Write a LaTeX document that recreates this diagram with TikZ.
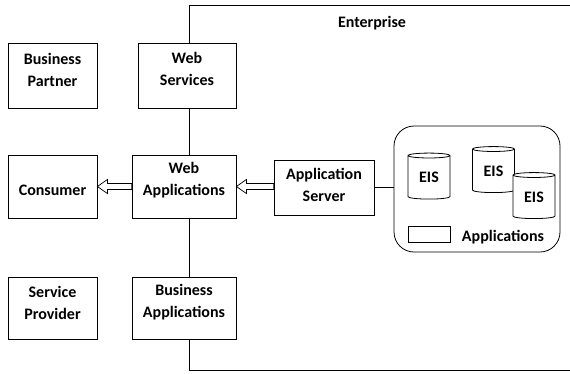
\documentclass[tikz,border=0pt]{standalone}
\usepackage{fontspec}
\setmainfont{Carlito}
\usetikzlibrary{calc,shapes.geometric}
\begin{document}
\begin{tikzpicture}[x=1pt,y=-1pt,
  line width=0.8pt,
  every node/.style={font=\bfseries\fontsize{16}{22}\selectfont, align=center, inner sep=0pt},
  box/.style={draw, rectangle},
  db/.style={draw, cylinder, shape border rotate=90, aspect=0.25,
             minimum width=42pt, minimum height=46pt, fill=white},
  hollow/.style={draw, fill=white, line width=0.7pt}
]
\useasboundingbox (0,0) rectangle (570,373);

% enterprise boundary
\coordinate (ent-top) at (189,5);
\coordinate (ent-topright) at (570,5);
\coordinate (ent-bot) at (189,370);
\coordinate (ent-botright) at (570,370);
\node (enterprise) at (372,23) {Enterprise};

% outside parties
\node[box, minimum width=89pt, minimum height=65pt] (bp) at (52.5,75.5) {};
\node (bp-t) at ($(bp)+(0,-6)$) {Business\\Partner};
\node[box, minimum width=89pt, minimum height=63pt] (con) at (52.5,186.5) {};
\node (con-t) at ($(con)+(0,4)$) {Consumer};
\node[box, minimum width=89pt, minimum height=62pt] (sp) at (52.5,308) {};
\node (sp-t) at ($(sp)+(0,-5)$) {Service\\Provider};

% enterprise systems
\node[box, minimum width=98pt, minimum height=65pt] (ws) at (187,75.5) {};
\node (ws-t) at ($(ws)+(0,-7)$) {Web\\Services};
\node[box, minimum width=104pt, minimum height=63pt] (wa) at (184,186.5) {};
\node (wa-t) at ($(wa)+(0,-6)$) {Web\\Applications};
\node[box, minimum width=104pt, minimum height=62pt] (ba) at (184,308) {};
\node (ba-t) at ($(ba)+(0,-5.5)$) {Business\\Applications};
\node[box, minimum width=100pt, minimum height=55pt] (as) at (324,187.5) {};
\node (as-t) at ($(as)+(0,-2.5)$) {Application\\Server};

% EIS group
\node[draw, rounded corners=20pt, minimum width=166pt, minimum height=126pt] (eisgroup) at (477,189) {};
\node[db] (eis1) at (429,177.5) {EIS};
\node[db] (eis2) at (493.5,171) {EIS};
\node[db] (eis3) at (534,197) {EIS};
\node[box, minimum width=42pt, minimum height=16pt] (appsym) at (429,234) {};
\node (applabel) at (503,237) {Applications};

% boundary lines and links
\draw (ent-topright) -- (ent-top) -- (ent-top |- ws.north);
\draw (ent-top |- ws.south) -- (ent-top |- wa.north);
\draw (ent-top |- wa.south) -- (ent-top |- ba.north);
\draw (ent-top |- ba.south) -- (ent-bot) -- (ent-botright);
\draw (as.east) -- (as.east -| eisgroup.west);

% hollow arrows
\draw[hollow] (con.east) -- ++(10,-7) -- ++(0,4) -- ($(wa.west)+(0,-3)$)
  -- ($(wa.west)+(0,3)$) -- ($(con.east)+(10,3)$) -- ++(0,4) -- cycle;
\draw[hollow] (wa.east) -- ++(10,-7) -- ++(0,4) -- ($(as.west |- wa.east)+(0,-3)$)
  -- ($(as.west |- wa.east)+(0,3)$) -- ($(wa.east)+(10,3)$) -- ++(0,4) -- cycle;
\end{tikzpicture}
\end{document}
